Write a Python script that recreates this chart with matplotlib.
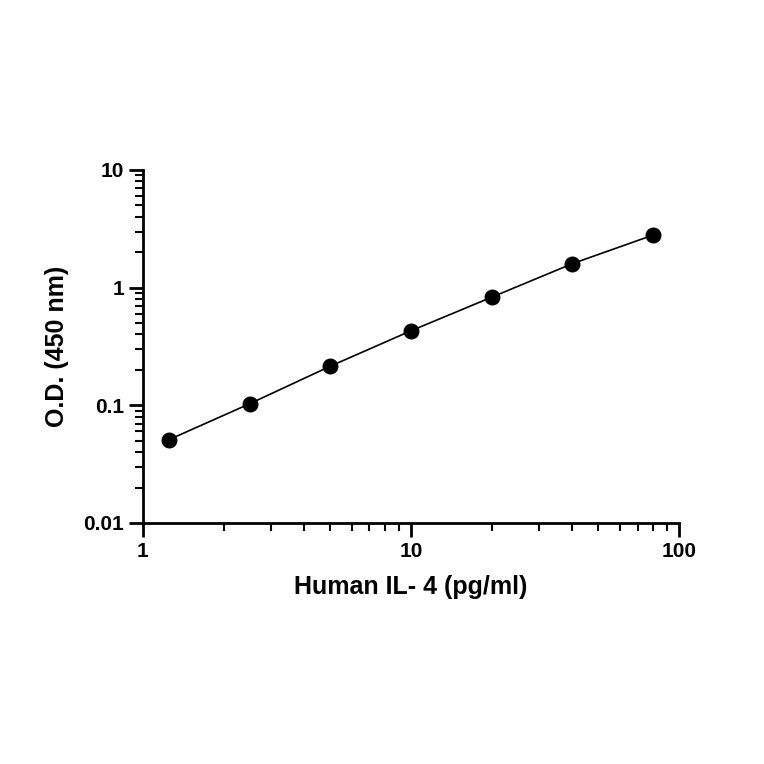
import matplotlib
matplotlib.use("Agg")
import matplotlib.pyplot as plt
from matplotlib.ticker import LogLocator, NullFormatter, FixedLocator, FixedFormatter

plt.rcParams['font.family'] = ['Liberation Sans', 'DejaVu Sans']
plt.rcParams['font.weight'] = 'bold'

conc = [1.25, 2.5, 5, 10, 20, 40, 80]
od = [0.051, 0.103, 0.215, 0.43, 0.83, 1.6, 2.8]
x_ticks = [1, 10, 100]
x_labels = ["1", "10", "100"]
y_ticks = [0.01, 0.1, 1, 10]
y_labels = ["0.01", "0.1", "1", "10"]

fig = plt.figure(figsize=(7.64, 7.64), dpi=100)
ax = fig.add_axes([0.187, 0.3155, 0.702, 0.462])

ax.plot(conc, od, color="black", linewidth=1.2)
ax.scatter(conc, od, s=110, color="black", zorder=3)

ax.set_xscale("log")
ax.set_yscale("log")
ax.set_xlim(1, 100)
ax.set_ylim(0.01, 10)

ax.xaxis.set_major_locator(FixedLocator(x_ticks))
ax.xaxis.set_major_formatter(FixedFormatter(x_labels))
ax.yaxis.set_major_locator(FixedLocator(y_ticks))
ax.yaxis.set_major_formatter(FixedFormatter(y_labels))
ax.xaxis.set_minor_locator(LogLocator(base=10, subs=range(2, 10)))
ax.yaxis.set_minor_locator(LogLocator(base=10, subs=range(2, 10)))
ax.xaxis.set_minor_formatter(NullFormatter())
ax.yaxis.set_minor_formatter(NullFormatter())

for s in ["top", "right"]:
    ax.spines[s].set_visible(False)
for s in ["left", "bottom"]:
    ax.spines[s].set_linewidth(2)

ax.tick_params(which="major", length=10, width=2, labelsize=15)
ax.tick_params(which="minor", length=6, width=1.5)

ax.set_xlabel("Human IL- 4 (pg/ml)", fontsize=18, fontweight="bold", labelpad=10)
ax.set_ylabel("O.D. (450 nm)", fontsize=18, fontweight="bold", labelpad=10)

fig.savefig("out.png", dpi=100)
